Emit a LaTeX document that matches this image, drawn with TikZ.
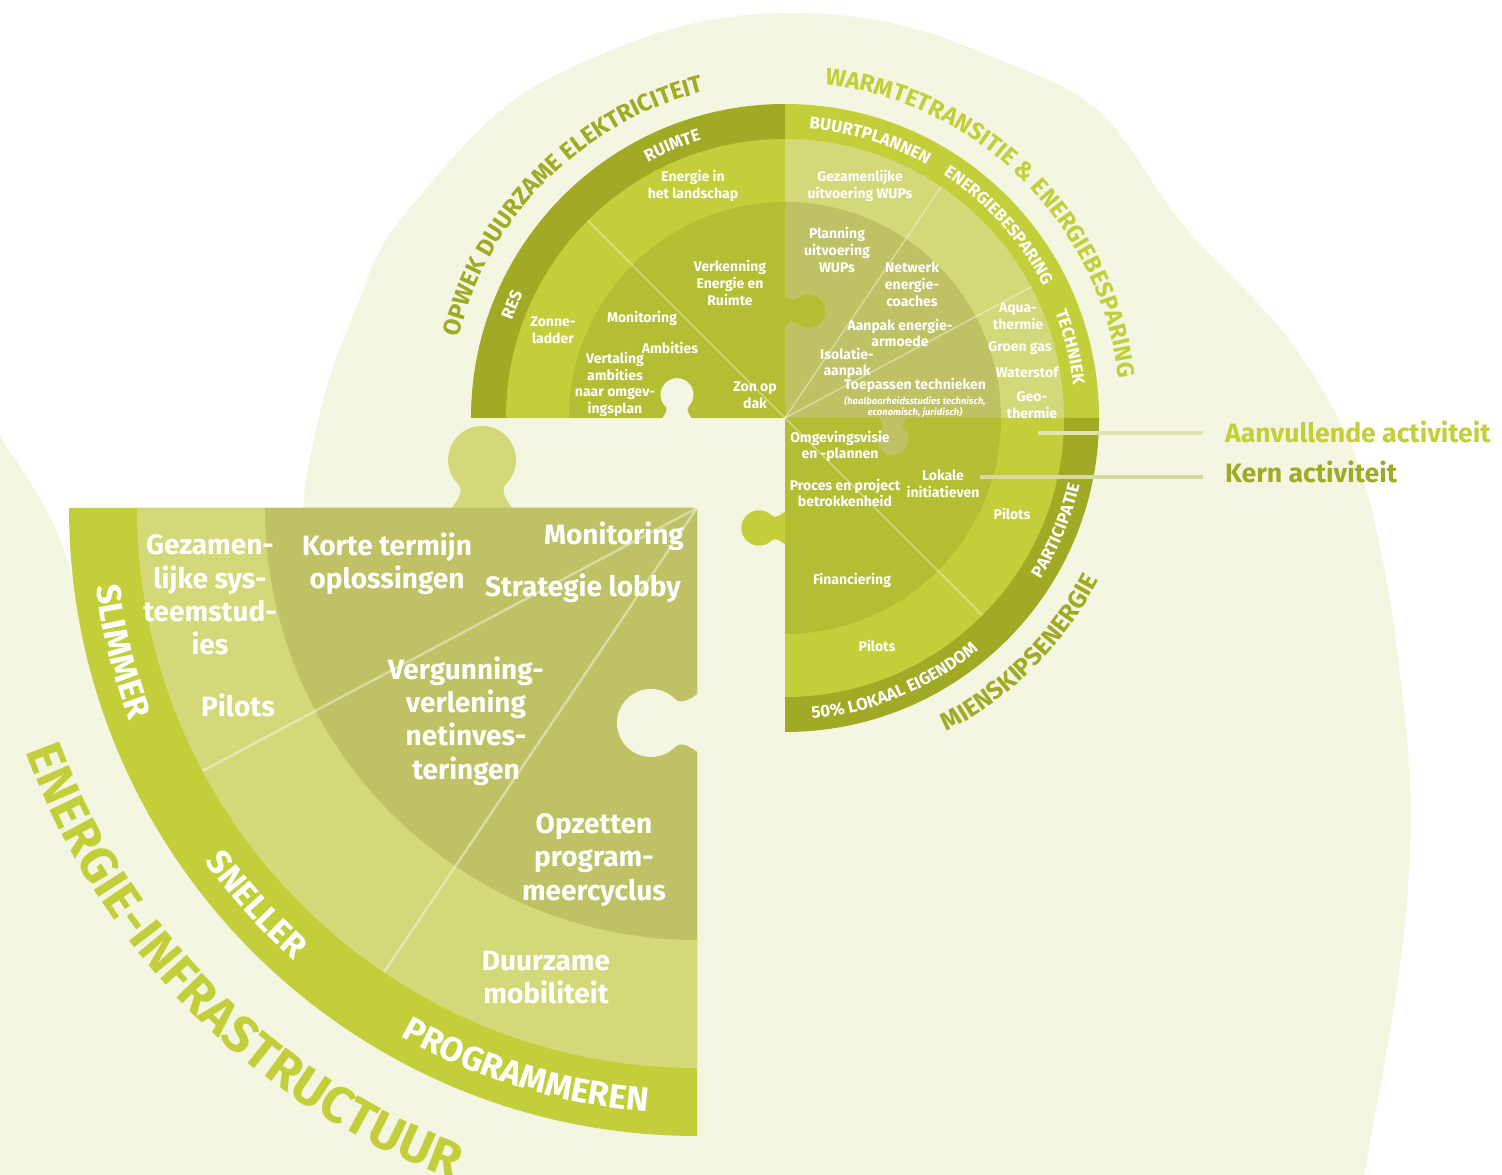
\documentclass[tikz,border=0pt]{standalone}
\usepackage{fontspec}
\setmainfont{Fira Sans}
\usetikzlibrary{decorations.text}
\definecolor{cream}{HTML}{F4F6E2}
\definecolor{dk}{HTML}{A1AA24}
\definecolor{br}{HTML}{C2CF3A}
\definecolor{md}{HTML}{B3BE32}
\definecolor{pl}{HTML}{D3D978}
\definecolor{gy}{HTML}{BEC264}
\definecolor{lnA}{HTML}{E0E5B0}
\definecolor{lnK}{HTML}{D6DAA2}
\newcommand\ringfnt{\fontsize{17}{17}\selectfont\bfseries}
\newcommand\outfnt{\fontsize{24}{24}\selectfont\bfseries}
\newcommand\mienfnt{\fontsize{25}{25}\selectfont\bfseries}
\newcommand\bpfnt{\fontsize{34}{34}\selectfont\bfseries}
\newcommand\hugefnt{\fontsize{51}{51}\selectfont\bfseries}
\newcommand\keyholepath{(-30,-2) -- (-30,0) .. controls (-26,6) and (-17,17) .. (-24,24) arc[start angle=225,end angle=-45,radius=34] .. controls (17,17) and (26,6) .. (30,0) -- (30,-2) -- cycle}
\tikzset{
  lbl/.style={text=white, font=\fontsize{14}{16.7}\selectfont\bfseries, align=center, inner sep=0pt},
  biglbl/.style={text=white, font=\fontsize{28}{33.3}\selectfont\bfseries, align=center, inner sep=0pt},
  divider/.style={draw=white, draw opacity=0.42, line width=1.4pt},
  curved/.style 2 args={decorate, decoration={text along path, text align=center, text color=#2, text={#1}}},
}
\begin{document}
\begin{tikzpicture}[x=1pt,y=1pt]
\useasboundingbox (0,0) rectangle (1502,1175);
\fill[white] (0,0) rectangle (1502,1175);
% background blobs
\fill[cream] plot[smooth, tension=0.6] coordinates {(1363,-5) (1393,163) (1407,275) (1410,388) (1400,500) (1383,613) (1353,725) (1287,838) (1183,950) (1100,1063) (1000,1115) (900,1150) (800,1162) (700,1153) (600,1120) (500,1064) (393,945) (357,869) (328,792) (310,716) (303,666) (298,560)} -- (298,-5) -- cycle;
\fill[cream] plot[smooth, tension=0.6] coordinates {(-10,755) (0,739) (50,658) (80,575) (105,480)} -- (305,480) -- (305,-5) -- (-10,-5) -- cycle;

% ===== big lower-left piece =====
\fill[pl, shift={(482,667)}] \keyholepath;
\begin{scope}[shift={(697,667)}]
  \fill[br] (0,0) -- (180:628) arc[start angle=180,end angle=270,radius=628] -- cycle;
  \fill[pl] (0,0) -- (180:560) arc[start angle=180,end angle=270,radius=560] -- cycle;
  \fill[gy] (0,0) -- (180:432) arc[start angle=180,end angle=270,radius=432] -- cycle;
  \draw[divider, line width=2.4pt] (0,0) -- (208:560);
  \draw[divider, line width=2.4pt] (0,0) -- (236:560);
  \path[curved={|\bpfnt|SLIMMER}{white}] (180:606) arc[start angle=180,end angle=208,radius=606];
  \path[curved={|\bpfnt|SNELLER}{white}] (208:606) arc[start angle=208,end angle=236,radius=606];
  \path[curved={|\bpfnt|PROGRAMMEREN}{white}] (236:606) arc[start angle=236,end angle=270,radius=606];
  \path[curved={|\hugefnt|ENERGIE-INFRASTRUCTUUR}{br}] (178:714) arc[start angle=178,end angle=272,radius=714];
\end{scope}
\fill[cream, shift={(699,452)}, rotate=90] \keyholepath;

% ===== upper circle =====
\begin{scope}[shift={(785,757)}]
  % top-left
  \fill[dk] (0,0) -- (180:314) arc[start angle=180,end angle=90,radius=314] -- cycle;
  \fill[br] (0,0) -- (180:279) arc[start angle=180,end angle=90,radius=279] -- cycle;
  \fill[md] (0,0) -- (180:216) arc[start angle=180,end angle=90,radius=216] -- cycle;
  % top-right
  \fill[br] (0,0) -- (90:314) arc[start angle=90,end angle=0,radius=314] -- cycle;
  \fill[pl] (0,0) -- (90:279) arc[start angle=90,end angle=0,radius=279] -- cycle;
  \fill[gy] (0,0) -- (90:216) arc[start angle=90,end angle=0,radius=216] -- cycle;
  % bottom-right
  \fill[dk] (0,0) -- (270:314) arc[start angle=270,end angle=360,radius=314] -- cycle;
  \fill[br] (0,0) -- (270:279) arc[start angle=270,end angle=360,radius=279] -- cycle;
  \fill[md] (0,0) -- (270:216) arc[start angle=270,end angle=360,radius=216] -- cycle;
\end{scope}
% puzzle tabs and slot
\fill[md, shift={(785,864)}, rotate=-90, scale=0.49] \keyholepath;
\fill[gy, shift={(893,757)}, rotate=180, scale=0.45] \keyholepath;
\fill[br, shift={(784,647)}, rotate=90, scale=0.52] \keyholepath;
\fill[cream, shift={(677,757)}, scale=0.485] \keyholepath;
\begin{scope}[shift={(785,757)}]
  \draw[divider] (0,0) -- (135:279);
  \draw[divider] (0,0) -- (56:279);
  \draw[divider] (0,0) -- (28:279);
  \draw[divider] (0,0) -- (315:279);
  % ring labels
  \path[curved={|\ringfnt|RES}{white}] (180:290) arc[start angle=180,end angle=135,radius=290];
  \path[curved={|\ringfnt|RUIMTE}{white}] (135:290) arc[start angle=135,end angle=90,radius=290];
  \path[curved={|\ringfnt|BUURTPLANNEN}{white}] (90:290) arc[start angle=90,end angle=56,radius=290];
  \path[curved={|\ringfnt|ENERGIEBESPARING}{white}] (56:290) arc[start angle=56,end angle=28,radius=290];
  \path[curved={|\ringfnt|TECHNIEK}{white}] (28:290) arc[start angle=28,end angle=0,radius=290];
  \path[curved={|\ringfnt|50{\%} LOKAAL EIGENDOM}{white}] (270:302) arc[start angle=270,end angle=315,radius=302];
  \path[curved={|\ringfnt|PARTICIPATIE}{white}] (315:302) arc[start angle=315,end angle=360,radius=302];
  % outer labels
  \path[curved={|\outfnt|OPWEK DUURZAME ELEKTRICITEIT}{dk}] (180:336) arc[start angle=180,end angle=90,radius=336];
  \path[curved={|\outfnt|WARMTETRANSITIE {\&} ENERGIEBESPARING}{br}] (90:336) arc[start angle=90,end angle=0,radius=336];
  \path[curved={|\mienfnt|MIENSKIPSENERGIE}{dk}] (270:353) arc[start angle=270,end angle=360,radius=353];
\end{scope}

% ===== labels top-left =====
\node[lbl] (tl1) at (693,989) {Energie in\\het landschap};
\node[lbl] (tl2) at (730,892) {Verkenning\\Energie en\\Ruimte};
\node[lbl] (tl3) at (553,845) {Zonne-\\ladder};
\node[lbl] (tl4) at (642,857) {Monitoring};
\node[lbl] (tl5) at (670,827) {Ambities};
\node[lbl] (tl6) at (615,790.5) {Vertaling\\ambities\\naar omgev-\\ingsplan};
\node[lbl] (tl7) at (755,780) {Zon op\\dak};
% ===== labels top-right =====
\node[lbl] (tr1) at (860,989) {Gezamenlijke\\uitvoering WUPs};
\node[lbl] (tr2) at (837,925) {Planning\\uitvoering\\WUPs};
\node[lbl] (tr3) at (912,890.5) {Netwerk\\energie-\\coaches};
\node[lbl] (tr4) at (900,842) {Aanpak energie-\\armoede};
\node[lbl] (tr5) at (847,811.5) {Isolatie-\\aanpak};
\node[lbl] (tr6) at (915,790) {Toepassen technieken};
\node[lbl, font=\fontsize{9.5}{11.5}\selectfont\bfseries\itshape] (tr7) at (915,768) {(haalbaarheidsstudies technisch,\\economisch, juridisch)};
\node[lbl] (tr8) at (1018,858.5) {Aqua-\\thermie};
\node[lbl] (tr9) at (1020,827) {Groen gas};
\node[lbl] (tr10) at (1027,803) {Waterstof};
\node[lbl] (tr11) at (1032,770) {Geo-\\thermie};
% ===== labels bottom-right =====
\node[lbl] (br1) at (840,728.5) {Omgevingsvisie\\en -plannen};
\node[lbl] (br2) at (845,682) {Proces en project\\betrokkenheid};
\node[lbl] (br3) at (943,691.5) {Lokale\\initiatieven};
\node[lbl] (br4) at (1012,661) {Pilots};
\node[lbl] (br5) at (852,595) {Financiering};
\node[lbl] (br6) at (877,529) {Pilots};
% ===== labels big piece =====
\node[biglbl] (bp1) at (210,580) {Gezamen-\\lijke sys-\\teemstud-\\ies};
\node[biglbl] (bp2) at (238,470) {Pilots};
\node[biglbl] (bp3) at (387,611) {Korte termijn\\oplossingen};
\node[biglbl] (bp4) at (614,639) {Monitoring};
\node[biglbl] (bp5) at (583,587) {Strategie lobby};
\node[biglbl] (bp6) at (466,454) {Vergunning-\\verlening\\netinves-\\teringen};
\node[biglbl] (bp7) at (594,315) {Opzetten\\program-\\meercyclus};
\node[biglbl] (bp8) at (546,197.5) {Duurzame\\mobiliteit};

% ===== legend =====
\coordinate (aS) at (1038,742);
\coordinate (aE) at (1203,742);
\coordinate (kS) at (980,698);
\coordinate (kE) at (1203,698);
\draw[lnA, line width=4pt] (aS) -- (aE);
\draw[lnK, line width=4pt] (kS) -- (kE);
\node[anchor=base west, inner sep=0pt, text=br, font=\fontsize{26.6}{30}\selectfont\bfseries] (legA) at (1225,732) {Aanvullende activiteit};
\node[anchor=base west, inner sep=0pt, text=dk, font=\fontsize{26.6}{30}\selectfont\bfseries] (legK) at (1225,692) {Kern activiteit};
\end{tikzpicture}
\end{document}
